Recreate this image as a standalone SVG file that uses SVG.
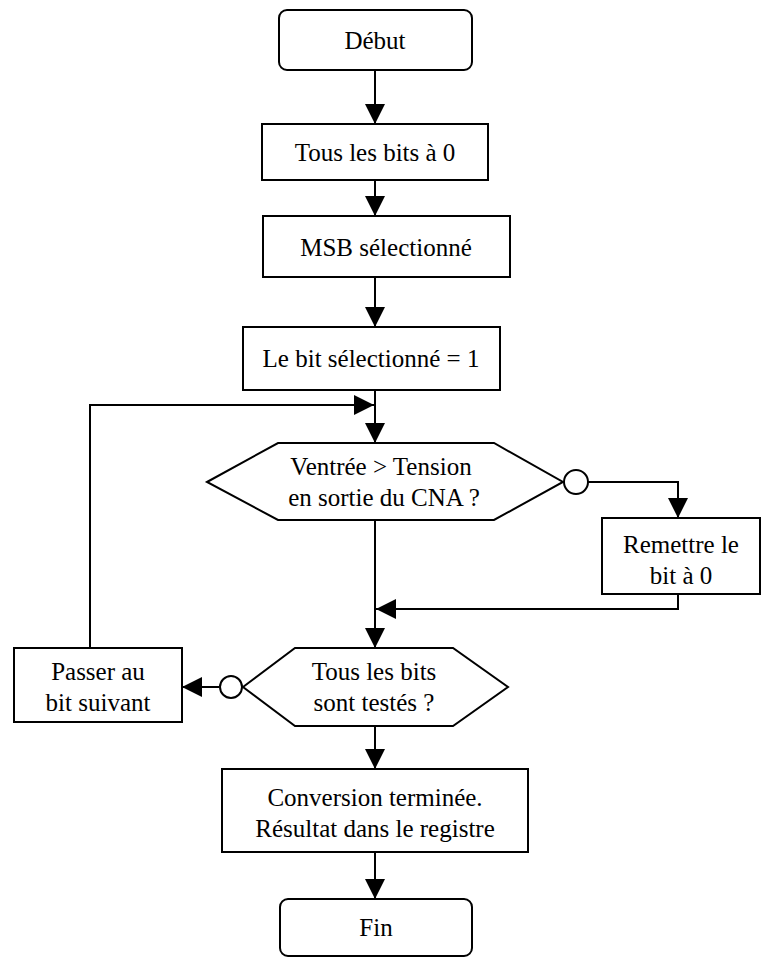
<svg xmlns="http://www.w3.org/2000/svg" width="779" height="958" viewBox="0 0 779 958">
<defs>
<marker id="ah" markerWidth="20" markerHeight="20" refX="20" refY="10" orient="auto" markerUnits="userSpaceOnUse"><path d="M0,0 L20,10 L0,20 z" fill="#000"/></marker>
<style>
.n{fill:#fff;stroke:#000;stroke-width:2}
text{font-family:'Times New Roman','Liberation Serif','DejaVu Serif','Noto Serif',Times,serif;font-size:25px;fill:#000;text-anchor:middle}
.c{fill:none;stroke:#000;stroke-width:2}
</style>
</defs>
<rect width="779" height="958" fill="#fff"/>
<g id="connectors">
<path class="c" d="M375,70 V124" marker-end="url(#ah)"/>
<path class="c" d="M375,180 V216" marker-end="url(#ah)"/>
<path class="c" d="M375,277 V327" marker-end="url(#ah)"/>
<path class="c" d="M375,390 V443" marker-end="url(#ah)"/>
<path class="c" d="M90,648 V405 H374" marker-end="url(#ah)"/>
<path class="c" d="M588,482 H678 V518" marker-end="url(#ah)"/>
<path class="c" d="M678,594 V609 H376" marker-end="url(#ah)"/>
<path class="c" d="M375,520 V648" marker-end="url(#ah)"/>
<path class="c" d="M219,687 H182" marker-end="url(#ah)"/>
<path class="c" d="M375,726 V769" marker-end="url(#ah)"/>
<path class="c" d="M375,852 V899" marker-end="url(#ah)"/>
<circle class="n" cx="576" cy="482" r="12"/>
<circle class="n" cx="231" cy="687" r="11"/>
</g>
<g id="debut"><rect class="n" x="279" y="10" width="193" height="60" rx="8"/><text x="375" y="49">Début</text></g>
<g id="tous0"><rect class="n" x="262" y="124" width="226" height="56"/><text x="375" y="161">Tous les bits à 0</text></g>
<g id="msb"><rect class="n" x="263" y="216" width="247" height="61"/><text x="386" y="256">MSB sélectionné</text></g>
<g id="setbit"><rect class="n" x="243" y="327" width="257" height="63"/><text x="371" y="367">Le bit sélectionné = 1</text></g>
<g id="test1"><polygon class="n" points="207,482 278,443 494,443 563,482 494,520 278,520"/><text x="381" y="475">Ventrée &gt; Tension</text><text x="384" y="506">en sortie du CNA ?</text></g>
<g id="reset"><rect class="n" x="602" y="518" width="158" height="76"/><text x="681" y="553">Remettre le</text><text x="681" y="584">bit à 0</text></g>
<g id="test2"><polygon class="n" points="243,687 295,648 453,648 508,687 453,726 295,726"/><text x="374" y="680">Tous les bits</text><text x="374" y="711">sont testés ?</text></g>
<g id="next"><rect class="n" x="14" y="648" width="168" height="74"/><text x="98" y="680">Passer au</text><text x="98" y="711">bit suivant</text></g>
<g id="conv"><rect class="n" x="222" y="769" width="306" height="83"/><text x="375" y="806">Conversion terminée.</text><text x="375" y="837">Résultat dans le registre</text></g>
<g id="fin"><rect class="n" x="280" y="899" width="192" height="57" rx="8"/><text x="376" y="936">Fin</text></g>
</svg>
